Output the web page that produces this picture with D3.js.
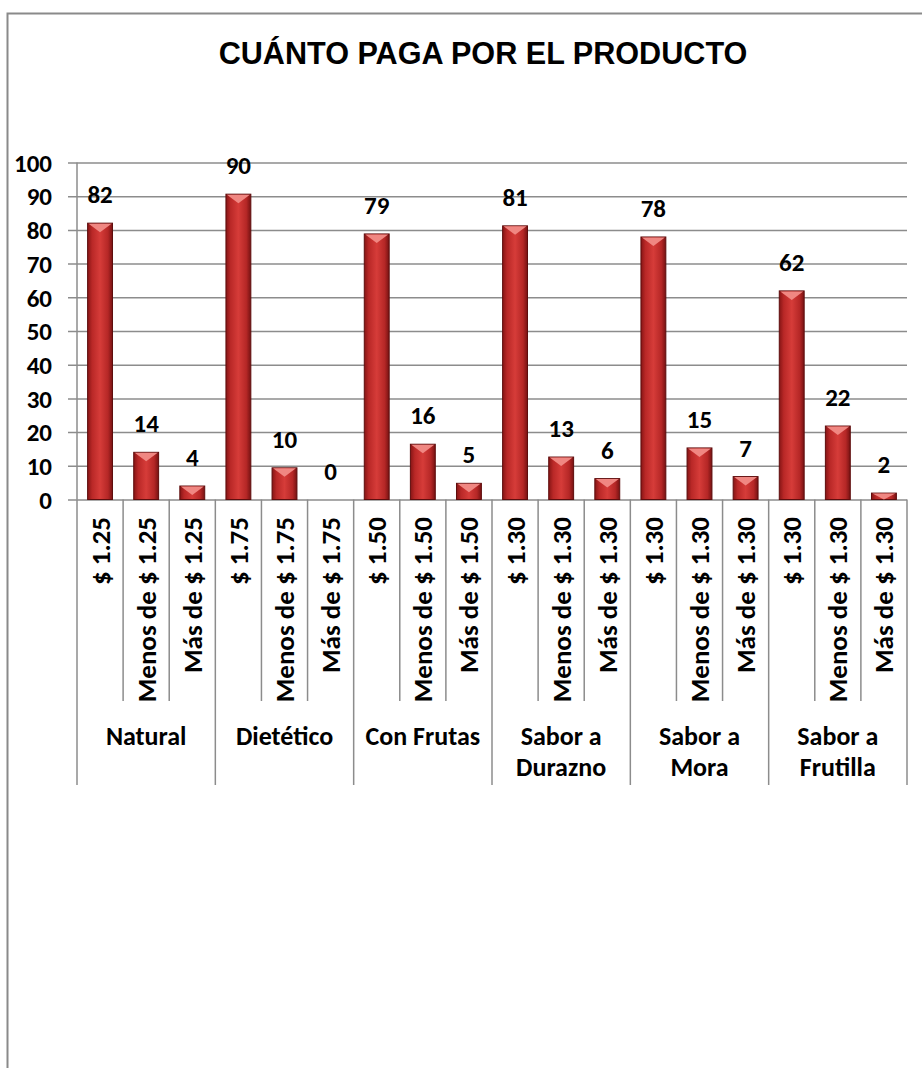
<!DOCTYPE html>
<html>
<head>
<meta charset="utf-8">
<script src="https://d3js.org/d3.v7.min.js"></script>
<style>
  body { margin: 0; background: #fff; }
  text { font-family: Carlito, Calibri, Lato, sans-serif; font-weight: bold; fill: #000; }
</style>
</head>
<body>
  <div id="my_chart"></div>
  <script>
    // data
    var groups = [["Natural"], ["Dietético"], ["Con Frutas"], ["Sabor a", "Durazno"], ["Sabor a", "Mora"], ["Sabor a", "Frutilla"]];
    var priceLabels = ["$ 1.25", "Menos de $ 1.25", "Más de $ 1.25",
                       "$ 1.75", "Menos de $ 1.75", "Más de $ 1.75",
                       "$ 1.50", "Menos de $ 1.50", "Más de $ 1.50",
                       "$ 1.30", "Menos de $ 1.30", "Más de $ 1.30",
                       "$ 1.30", "Menos de $ 1.30", "Más de $ 1.30",
                       "$ 1.30", "Menos de $ 1.30", "Más de $ 1.30"];
    var values = [82, 14, 4, 90.6, 9.4, 0, 78.8, 16.4, 4.8, 81.2, 12.6, 6.2, 77.9, 15.3, 6.8, 61.9, 21.8, 1.9];
    var valueLabels = ["82", "14", "4", "90", "10", "0", "79", "16", "5", "81", "13", "6", "78", "15", "7", "62", "22", "2"];
    var yTicks = [0, 10, 20, 30, 40, 50, 60, 70, 80, 90, 100];

    var W = 922, H = 1068;
    var pLeft = 77, pRight = 907, pTop = 162.5, pBase = 499.5;

    var svg = d3.select("#my_chart").append("svg")
      .attr("width", W).attr("height", H);

    // frame (only left and top edges fall inside the picture)
    svg.append("path")
      .attr("d", "M7.5," + H + "V13.5H" + W)
      .attr("fill", "none").attr("stroke", "#8a8a8a").attr("stroke-width", 2);

    svg.append("text")
      .attr("x", 483).attr("y", 64)
      .attr("text-anchor", "middle")
      .style("font-family", "'Liberation Sans', Arial, sans-serif")
      .style("font-size", "30.6px")
      .text("CUÁNTO PAGA POR EL PRODUCTO");

    var x = d3.scaleBand().domain(d3.range(values.length)).range([pLeft, pRight]);
    var y = d3.scaleLinear().domain([0, 100]).range([pBase, pTop]);

    // gridlines + tick marks + labels in one axis
    var yAxis = svg.append("g")
      .attr("transform", "translate(" + pRight + ",0)")
      .call(d3.axisLeft(y).tickValues(yTicks).tickSize(pRight - 68).tickPadding(16));
    yAxis.select(".domain").remove();
    yAxis.selectAll("line").attr("stroke", "#8c8c8c").attr("stroke-width", 1.5);
    yAxis.selectAll("text")
      .style("font-family", "Carlito, Calibri, Lato, sans-serif")
      .style("font-weight", "bold")
      .style("font-size", "25px")
      .attr("dy", "0.35em").attr("fill", "#000");

    // y axis line
    svg.append("line")
      .attr("x1", pLeft).attr("x2", pLeft).attr("y1", pTop).attr("y2", pBase)
      .attr("stroke", "#8c8c8c").attr("stroke-width", 1.5);

    // bar gradient
    var defs = svg.append("defs");
    var g1 = defs.append("linearGradient").attr("id", "barGrad")
      .attr("x1", "0").attr("x2", "1").attr("y1", "0").attr("y2", "0");
    g1.append("stop").attr("offset", "0").attr("stop-color", "#861515");
    g1.append("stop").attr("offset", "0.18").attr("stop-color", "#b92827");
    g1.append("stop").attr("offset", "0.5").attr("stop-color", "#d63c39");
    g1.append("stop").attr("offset", "0.82").attr("stop-color", "#b52726");
    g1.append("stop").attr("offset", "1").attr("stop-color", "#761212");

    var bw = x.bandwidth() * 0.54;
    function bx(i) { return x(i) + (x.bandwidth() - bw) / 2; }

    var bars = svg.selectAll(".bar").data(values).enter().append("g").attr("class", "bar");

    bars.append("rect")
      .attr("x", function(d, i) { return bx(i); })
      .attr("y", function(d) { return y(d); })
      .attr("width", bw)
      .attr("height", function(d) { return pBase - y(d); })
      .attr("fill", "url(#barGrad)")
      .attr("stroke", "#5e0d0d").attr("stroke-width", function(d) { return d > 0 ? 1 : 0; });

    // top bevel
    bars.append("path")
      .attr("d", function(d, i) {
        if (d <= 0) return null;
        var x0 = bx(i), x1 = x0 + bw, t = y(d);
        var b = Math.min(9, pBase - t);
        return "M" + (x0 + 1) + "," + (t + 0.5) + "H" + (x1 - 1) + "L" + (x0 + bw / 2) + "," + (t + b) + "Z";
      })
      .attr("fill", "#f08782");

    // value labels
    svg.selectAll(".vlab").data(values).enter().append("text")
      .attr("class", "vlab")
      .attr("x", function(d, i) { return x(i) + x.bandwidth() / 2; })
      .attr("y", function(d) { return y(d) - 20; })
      .attr("text-anchor", "middle")
      .style("font-size", "25px")
      .text(function(d, i) { return valueLabels[i]; });

    // category separators
    var seps = d3.range(values.length + 1);
    svg.selectAll(".sep").data(seps).enter().append("line")
      .attr("x1", function(i) { return i < values.length ? x(i) : pRight; })
      .attr("x2", function(i) { return i < values.length ? x(i) : pRight; })
      .attr("y1", pBase)
      .attr("y2", function(i) { return i % 3 == 0 ? 785 : 701; })
      .attr("stroke", "#8c8c8c").attr("stroke-width", 1.5);

    // price labels, rotated
    svg.selectAll(".plab").data(priceLabels).enter().append("text")
      .attr("class", "plab")
      .attr("transform", function(d, i) {
        return "translate(" + (x(i) + x.bandwidth() / 2) + ",517) rotate(-90)";
      })
      .attr("text-anchor", "end")
      .attr("dy", "0.35em")
      .style("font-size", "27px")
      .text(function(d) { return d; });

    // group labels
    var gl = svg.selectAll(".glab").data(groups).enter().append("text")
      .attr("class", "glab")
      .attr("text-anchor", "middle")
      .style("font-size", "26px");
    gl.selectAll("tspan").data(function(d, gi) { return d.map(function(s) { return {s: s, gi: gi}; }); })
      .enter().append("tspan")
      .attr("x", function(d) { return x(d.gi * 3) + x.bandwidth() * 1.5; })
      .attr("y", function(d, k) { return 745 + k * 31; })
      .text(function(d) { return d.s; });
  </script>
</body>
</html>
